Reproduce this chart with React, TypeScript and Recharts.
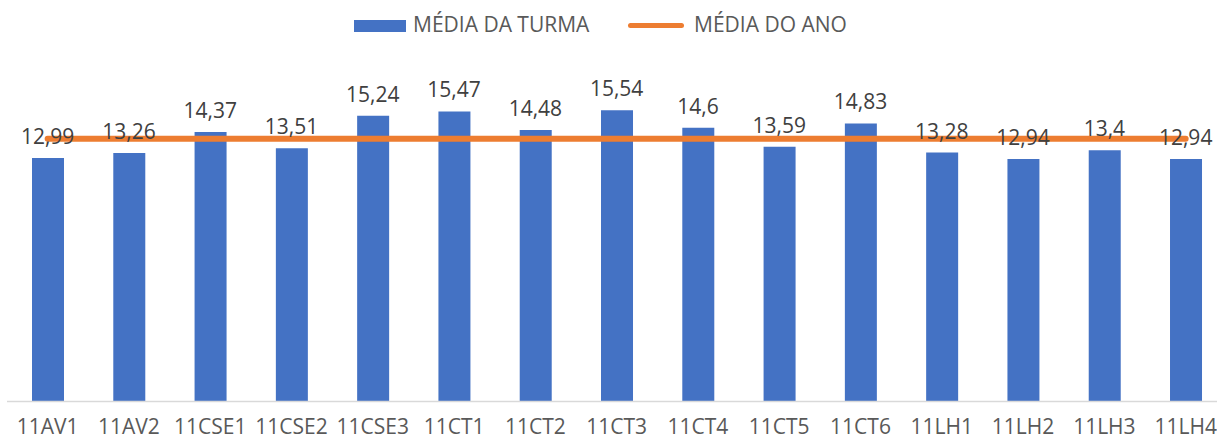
import React from 'react';
import { ComposedChart, Bar, Line, XAxis, YAxis, Legend, LabelList } from 'recharts';

const categories = ['11AV1', '11AV2', '11CSE1', '11CSE2', '11CSE3', '11CT1', '11CT2', '11CT3', '11CT4', '11CT5', '11CT6', '11LH1', '11LH2', '11LH3', '11LH4'];
const classAverage = [12.99, 13.26, 14.37, 13.51, 15.24, 15.47, 14.48, 15.54, 14.6, 13.59, 14.83, 13.28, 12.94, 13.4, 12.94];
const yearAverage = [14.02, 14.02, 14.02, 14.02, 14.02, 14.02, 14.02, 14.02, 14.02, 14.02, 14.02, 14.02, 14.02, 14.02, 14.02];
const seriesNames = ['MÉDIA DA TURMA', 'MÉDIA DO ANO'];

const data = categories.map((name, i) => ({ name, turma: classAverage[i], ano: yearAverage[i] }));

const FONT = '"Open Sans", sans-serif';
const BLUE = '#4472C4';
const ORANGE = '#ED7D31';

const fmt = (v: any) => String(v).replace('.', ',');

const LegendContent = () => (
  <div style={{ position: 'relative', width: 1230, height: 50, fontFamily: FONT, fontSize: 21, lineHeight: '21px', color: '#595959', whiteSpace: 'nowrap' }}>
    <div style={{ position: 'absolute', left: 354, top: 20, width: 52, height: 12, background: BLUE }} />
    <div style={{ position: 'absolute', left: 413, top: 14 }}>{seriesNames[0]}</div>
    <div style={{ position: 'absolute', left: 628, top: 23, width: 56, height: 5, borderRadius: 3, background: ORANGE }} />
    <div style={{ position: 'absolute', left: 694, top: 14 }}>{seriesNames[1]}</div>
  </div>
);

export default function App() {
  return (
    <div style={{ position: 'absolute', left: 0, top: 0, width: 1217, height: 441, overflow: 'hidden', background: '#fff' }}>
      <ComposedChart width={1230} height={441} data={data} margin={{ top: 64, right: 3.7, bottom: 9.5, left: 7 }}>
        <XAxis
          dataKey="name"
          interval={0}
          tickLine={false}
          axisLine={{ stroke: '#d9d9d9', strokeWidth: 1.3 }}
          height={30}
          tickMargin={12}
          tick={{ fontFamily: FONT, fontSize: 21, fill: '#595959' }}
        />
        <YAxis hide domain={[0, 18]} />
        <Legend verticalAlign="middle" align="center" wrapperStyle={{ top: 0, left: 0, width: 1230, height: 50 }} content={<LegendContent />} />
        <Bar dataKey="turma" fill={BLUE} barSize={32} isAnimationActive={false} />
        <Line dataKey="ano" stroke={ORANGE} strokeWidth={6} strokeLinecap="round" dot={false} activeDot={false} isAnimationActive={false} />
        <Line dataKey="turma" stroke="none" dot={false} activeDot={false} isAnimationActive={false} legendType="none">
          <LabelList dataKey="turma" position="top" offset={14} formatter={fmt} style={{ fontFamily: FONT, fontSize: 21, fill: '#404040' }} />
        </Line>
      </ComposedChart>
    </div>
  );
}
